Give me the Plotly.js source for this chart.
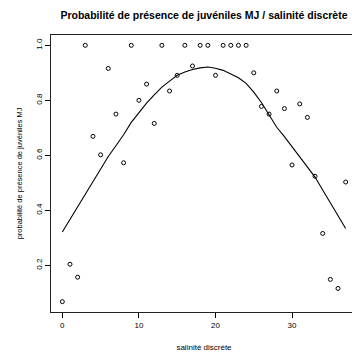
<!DOCTYPE html>
<html>
<head>
<meta charset="utf-8">
<script src="https://cdn.plot.ly/plotly-3.0.1.min.js"></script>
<style>html,body{margin:0;padding:0;overflow:hidden;background:#fff;}</style>
</head>
<body>
<div id="chart" style="width:360px;height:352px;"></div>
<script>
const salinite = [0,1,2,3,4,5,6,7,8,9,10,11,12,13,14,15,16,17,18,19,20,21,22,23,24,25,26,27,28,29,30,31,32,33,34,35,36,37];
const probaObs = [0.068,0.204,0.157,1.0,0.669,0.602,0.916,0.750,0.573,1.0,0.800,0.859,0.716,1.0,0.834,0.891,1.0,0.925,1.0,1.0,0.891,1.0,1.0,1.0,1.0,0.900,0.778,0.750,0.834,0.770,0.565,0.787,0.738,0.524,0.316,0.149,0.116,0.503];
const probaLissee = [0.321,0.367,0.412,0.458,0.504,0.551,0.596,0.635,0.675,0.720,0.755,0.790,0.820,0.848,0.870,0.891,0.903,0.912,0.918,0.921,0.917,0.909,0.896,0.882,0.862,0.830,0.792,0.745,0.702,0.668,0.632,0.594,0.557,0.521,0.474,0.427,0.381,0.334];
const xTicks = [0,10,20,30];
const yTicks = [0.2,0.4,0.6,0.8,1.0];
const yTickText = ["0.2","0.4","0.6","0.8","1.0"];

const font = "Liberation Sans, Arial, sans-serif";
const traces = [
  {x: salinite, y: probaObs, type: 'scatter', mode: 'markers',
   marker: {symbol: 'circle-open', size: 4, color: '#000', line: {width: 1, color: '#000'}}},
  {x: salinite, y: probaLissee, type: 'scatter', mode: 'lines',
   line: {color: '#000', width: 1.1}}
];
const layout = {
  width: 360, height: 352,
  margin: {l: 50.5, r: 3.2, t: 35, b: 40},
  paper_bgcolor: '#fff', plot_bgcolor: '#fff',
  showlegend: false,
  font: {family: font, color: '#000', size: 8},
  title: {text: '<b>Probabilité de présence de juvéniles MJ / salinité discrète</b>',
          font: {family: font, size: 10.5, color: '#000'},
          x: 0.5, xanchor: 'center', xref: 'paper', y: 15, yref: 'container', yanchor: 'middle'},
  xaxis: {range: [-1.48, 38.48], tickvals: xTicks, ticktext: xTicks.map(String),
          ticks: 'outside', ticklen: 5, tickwidth: 1, tickcolor: '#000',
          showgrid: false, zeroline: false, showline: true, mirror: true,
          linecolor: '#222', linewidth: 1,
          tickfont: {family: font, size: 8, color: '#000'},
          title: {text: 'salinité discrète', font: {family: font, size: 8, color: '#000'}, standoff: 18}},
  yaxis: {range: [0.0304, 1.0376], tickvals: yTicks, ticktext: yTickText,
          ticks: 'outside', ticklen: 5, tickwidth: 1, tickcolor: '#000', tickangle: -90,
          showgrid: false, zeroline: false, showline: true, mirror: true,
          linecolor: '#222', linewidth: 1,
          tickfont: {family: font, size: 8, color: '#000'},
          title: {text: 'probabilité de présence de juvéniles MJ', font: {family: font, size: 7.5, color: '#000'}, standoff: 11}}
};
layout.title.y = 1 - 15/352;
Plotly.newPlot('chart', traces, layout, {staticPlot: true, displayModeBar: false});
</script>
</body>
</html>
